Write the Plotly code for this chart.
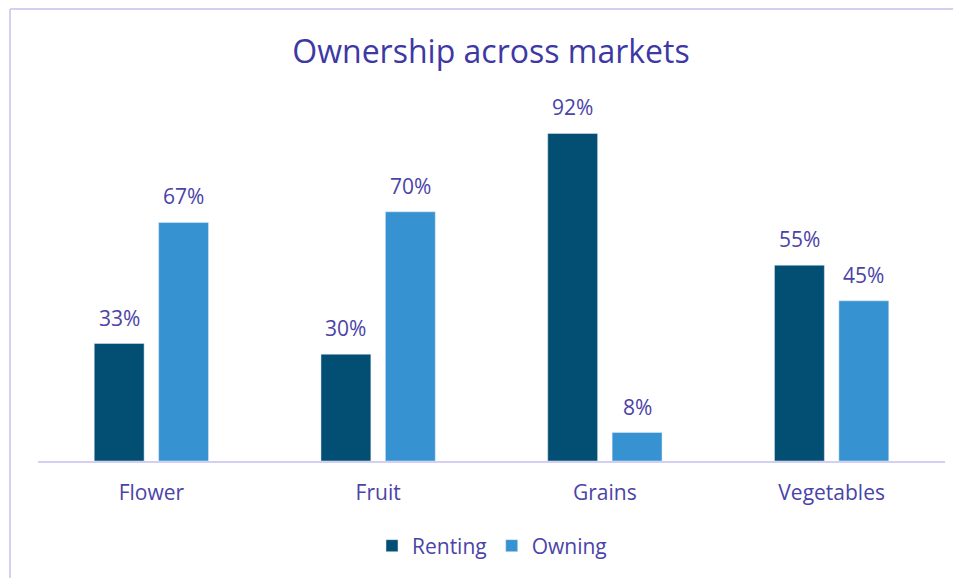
import plotly.graph_objects as go

categories = ["Flower", "Fruit", "Grains", "Vegetables"]
renting = [33, 30, 92, 55]
owning = [67, 70, 8, 45]
series_names = ["Renting", "Owning"]

FONT = "Open Sans"
TXT = "#4a43a8"
FS = 21

OFF = 8  # browser body margin
W, H = 961, 578
L = 38 - OFF
T = 105 - OFF
R = W - (945 - OFF)
B = H - (461 - OFF)
ph = H - T - B
pw = W - L - R

BAR_W = 0.22
OFFS = [-0.252, 0.032]
colors = ["#034e73", "#3692d0"]

fig = go.Figure()
annotations = []
for name, vals, off, col in zip(series_names, [renting, owning], OFFS, colors):
    fig.add_trace(go.Bar(
        x=categories, y=vals, name=name,
        marker=dict(color=col), width=BAR_W, offset=off,
    ))
    for c, v in zip(categories, vals):
        annotations.append(dict(
            x=c, y=v, xref="x", yref="y", text=f"{v}%", showarrow=False,
            xshift=(off + BAR_W / 2) * pw / 4, yshift=26, yanchor="middle",
            font=dict(family=FONT, size=FS, color=TXT),
        ))

def px_x(p):
    return (p - OFF - L) / pw

def px_y(p):
    return (H - B - (p - OFF)) / ph

fig.update_layout(
    width=W, height=H,
    margin=dict(l=L, r=R, t=T, b=B),
    paper_bgcolor="white", plot_bgcolor="white",
    barmode="group",
    title=dict(text="Ownership across markets", x=px_x(491), xanchor="center",
               xref="paper",
               y=1 - (52 - OFF) / H, yanchor="middle",
               font=dict(family=FONT, size=32, color="#3e38a4")),
    xaxis=dict(showline=True, linecolor="#d3cff0", linewidth=2,
               ticks="outside", ticklen=12, tickcolor="rgba(0,0,0,0)",
               showgrid=False, tickfont=dict(family=FONT, size=FS, color=TXT),
               range=[-0.5, 3.5]),
    yaxis=dict(visible=False, range=[0, 100], showgrid=False),
    legend=dict(orientation="h", x=px_x(492), xanchor="center",
                y=px_y(546), yanchor="middle",
                font=dict(family=FONT, size=FS, color=TXT),
                itemwidth=30, traceorder="normal"),
    showlegend=True,
    annotations=annotations,
    shapes=[
        dict(type="line", xref="paper", yref="paper",
             x0=px_x(10), x1=px_x(W + 20), y0=px_y(9), y1=px_y(9),
             line=dict(color="#d4d0f2", width=2)),
        dict(type="line", xref="paper", yref="paper",
             x0=px_x(10), x1=px_x(10), y0=px_y(9), y1=px_y(H + 20),
             line=dict(color="#d4d0f2", width=2)),
    ],
)

fig.write_html("out.html")
